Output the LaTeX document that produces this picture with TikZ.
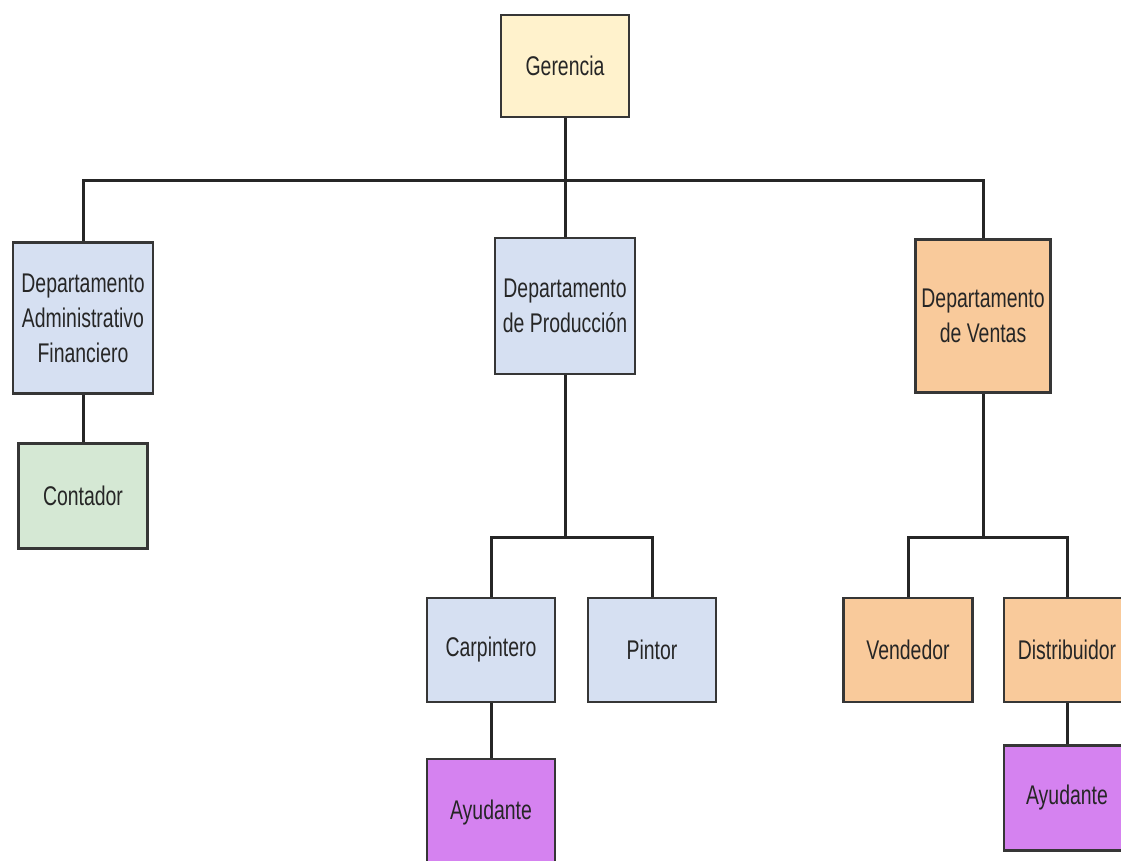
\documentclass[tikz,border=0pt]{standalone}
\usepackage{fontspec}
\setmainfont{Liberation Sans}[FakeStretch=0.72]
\definecolor{boxline}{HTML}{363636}
\definecolor{txt}{HTML}{262626}
\definecolor{cYellow}{HTML}{FFF2CC}
\definecolor{cBlue}{HTML}{D6E0F2}
\definecolor{cGreen}{HTML}{D5E8D4}
\definecolor{cOrange}{HTML}{F9CA9B}
\definecolor{cPurple}{HTML}{D582F0}
\tikzset{
  orgbox/.style={draw=boxline, line width=2.5pt, rectangle, inner sep=0pt,
    align=center, text=txt, font=\fontsize{27}{35}\selectfont},
  link/.style={draw=black!85, line width=3pt},
}
\begin{document}
\begin{tikzpicture}[x=1pt,y=-1pt]
  \useasboundingbox (0,0) rectangle (1121,860);
  \fill[white] (0,0) rectangle (1121,860);
  \clip (0,0) rectangle (1121,860);

  % boxes
  \node[orgbox, fill=cYellow, minimum width=128pt, minimum height=102pt] (ger) at (565,66) {Gerencia};
  \node[orgbox, fill=cBlue, minimum width=140pt, minimum height=151pt] (daf) at (83,318) {Departamento\\Administrativo\\Financiero};
  \node[orgbox, fill=cGreen, minimum width=129pt, minimum height=105pt] (cont) at (83,496) {Contador};
  \node[orgbox, fill=cBlue, minimum width=140pt, minimum height=136pt] (dpro) at (565,306) {Departamento\\de Producción};
  \node[orgbox, fill=cOrange, minimum width=135pt, minimum height=153pt] (dven) at (983,316) {Departamento\\de Ventas};
  \node[orgbox, fill=cBlue, minimum width=128pt, minimum height=104pt] (carp) at (491,650) {Carpintero};
  \node[orgbox, fill=cBlue, minimum width=128pt, minimum height=104pt] (pint) at (652,650) {Pintor};
  \node[orgbox, fill=cPurple, minimum width=128pt, minimum height=108pt] (ayu1) at (491,813) {Ayudante};
  \node[orgbox, fill=cOrange, minimum width=129pt, minimum height=104pt] (vend) at (908,650) {Vendedor};
  \node[orgbox, fill=cOrange, minimum width=126pt, minimum height=104pt] (dist) at (1067,650) {Distribuidor};
  \node[orgbox, fill=cPurple, minimum width=126pt, minimum height=105pt] (ayu2) at (1067,798) {Ayudante};

  % junction points of the branches
  \coordinate (j0) at (565,180);
  \coordinate (j1) at (565,537);
  \coordinate (j2) at (983,537);

  % connectors
  \draw[link] (ger.south) -- (dpro.north);
  \draw[link] (daf.north) |- (j0);
  \draw[link] (dven.north) |- (j0);
  \draw[link] (daf.south) -- (cont.north);
  \draw[link] (dpro.south) -- (j1);
  \draw[link] (carp.north) |- (j1);
  \draw[link] (pint.north) |- (j1);
  \draw[link] (carp.south) -- (ayu1.north);
  \draw[link] (dven.south) -- (j2);
  \draw[link] (vend.north) |- (j2);
  \draw[link] (dist.north) |- (j2);
  \draw[link] (dist.south) -- (ayu2.north);
\end{tikzpicture}
\end{document}
